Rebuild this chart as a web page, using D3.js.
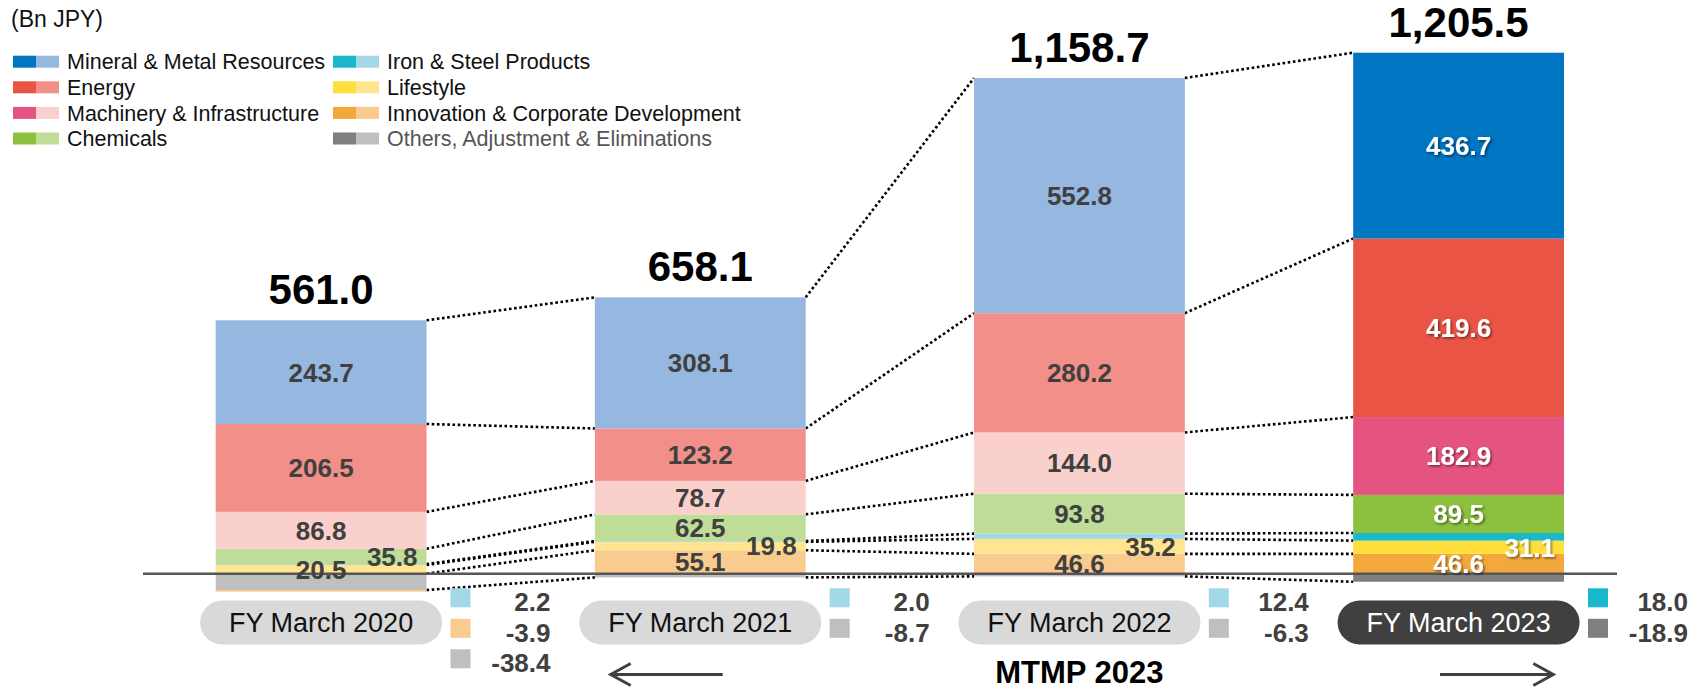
<!DOCTYPE html>
<html>
<head>
<meta charset="utf-8">
<script src="https://cdn.jsdelivr.net/npm/d3@7"></script>
<style>
  body { margin: 0; background: #fff; }
  text { font-family: 'Liberation Sans', Arial, sans-serif; }
</style>
</head>
<body>
<div id="chart-area"></div>
<script>
const years = ['FY March 2020', 'FY March 2021', 'FY March 2022', 'FY March 2023']
const totals = [561.0, 658.1, 1158.7, 1205.5]

const segmentNames = [
  'Mineral & Metal Resources', 'Energy', 'Machinery & Infrastructure', 'Chemicals',
  'Iron & Steel Products', 'Lifestyle', 'Innovation & Corporate Development',
  'Others, Adjustment & Eliminations'
]
const mineral = [243.7, 308.1, 552.8, 436.7]
const energy = [206.5, 123.2, 280.2, 419.6]
const machinery = [86.8, 78.7, 144.0, 182.9]
const chemicals = [35.8, 62.5, 93.8, 89.5]
const ironSteel = [2.2, 2.0, 12.4, 18.0]
const lifestyle = [20.5, 19.8, 35.2, 31.1]
const innovation = [-3.9, 55.1, 46.6, 46.6]
const others = [-38.4, -8.7, -6.3, -18.9]

// segment whose label sits at the right edge of the bar, per year
const edgeLabel = ['Chemicals', 'Lifestyle', 'Lifestyle', 'Lifestyle']

const darkColors = ['#0075c2', '#ea5444', '#e55480', '#8bc13e', '#1bb8cc', '#ffdf3c', '#f3a83b', '#7f7f7f']
const lightColors = ['#96b8e0', '#f18f88', '#f9d0cc', '#bfdd97', '#a2d8e7', '#ffe58f', '#f9cb8f', '#bfbfbf']

const values = [mineral, energy, machinery, chemicals, ironSteel, lifestyle, innovation, others]

const fmt = v => v.toFixed(1)

const W = 1696, H = 687
const svg = d3.select('#chart-area')
  .append('svg')
    .attr('width', W)
    .attr('height', H)

const defs = svg.append('defs')
defs.append('filter')
    .attr('id', 'shadow')
    .attr('x', '-20%').attr('y', '-30%').attr('width', '140%').attr('height', '160%')
  .append('feDropShadow')
    .attr('dx', 1.5).attr('dy', 1.5).attr('stdDeviation', 1)
    .attr('flood-color', '#000').attr('flood-opacity', 0.5)

const rows = years.map((yr, i) => {
  const r = {year: yr, idx: i}
  segmentNames.forEach((s, k) => { r[s] = values[k][i] })
  return r
})

// bottom-up stacking order
const stackOrder = segmentNames.slice().reverse()
const series = d3.stack()
  .keys(stackOrder)
  .offset(d3.stackOffsetDiverging)(rows)
const byKey = {}
series.forEach(s => { byKey[s.key] = s })

const maxTop = d3.max(series, s => d3.max(s, d => d[1]))

const x = d3.scaleBand()
  .domain(years)
  .range([215.7, 1564])
  .paddingInner(0.444)
  .paddingOuter(0)

const y = d3.scaleLinear()
  .domain([0, maxTop])
  .range([573.7, 52.7])

const bw = x.bandwidth()
const isLatest = i => i === years.length - 1
const colorOf = (k, i) => (isLatest(i) ? darkColors : lightColors)[segmentNames.indexOf(k)]

// dotted connectors between neighbouring bars
const boundaries = [
  {key: segmentNames[0], end: 1},
  {key: segmentNames[1], end: 1},
  {key: segmentNames[2], end: 1},
  {key: segmentNames[3], end: 1},
  {key: segmentNames[4], end: 1},
  {key: segmentNames[5], end: 1},
  {key: segmentNames[5], end: 0},
  {key: segmentNames[7], end: 0}
]
const links = []
for (let i = 0; i < years.length - 1; i++) {
  boundaries.forEach(b => {
    links.push({
      x1: x(years[i]) + bw, y1: y(byKey[b.key][i][b.end]),
      x2: x(years[i + 1]), y2: y(byKey[b.key][i + 1][b.end])
    })
  })
}
svg.append('g')
  .selectAll('line')
  .data(links)
  .enter().append('line')
    .attr('x1', d => d.x1).attr('y1', d => d.y1)
    .attr('x2', d => d.x2).attr('y2', d => d.y2)
    .attr('stroke', '#000')
    .attr('stroke-width', 2.6)
    .attr('stroke-dasharray', '2.6 2.6')

// stacked bars
svg.append('g')
  .selectAll('g')
  .data(series)
  .enter().append('g')
  .selectAll('rect')
  .data(s => s.map(d => ({key: s.key, d: d})))
  .enter().append('rect')
    .attr('x', d => x(d.d.data.year))
    .attr('y', d => y(d.d[1]))
    .attr('width', bw)
    .attr('height', d => Math.max(0, y(d.d[0]) - y(d.d[1])))
    .attr('fill', d => colorOf(d.key, d.d.data.idx))

// baseline
svg.append('line')
  .attr('x1', 143).attr('x2', 1617)
  .attr('y1', y(0)).attr('y2', y(0))
  .attr('stroke', '#555')
  .attr('stroke-width', 2.4)

// value labels inside the bars
const inBar = []
series.forEach(s => {
  s.forEach(d => {
    const i = d.data.idx
    const v = d.data[s.key]
    const k = segmentNames.indexOf(s.key)
    if (k === 4 || k === 7 || v <= 0) return
    const atEdge = edgeLabel[i] === s.key
    inBar.push({
      i: i, v: v,
      x: atEdge ? x(years[i]) + bw - 9 : x(years[i]) + bw / 2,
      y: (y(d[0]) + y(d[1])) / 2,
      anchor: atEdge ? 'end' : 'middle'
    })
  })
})
svg.append('g')
  .selectAll('text')
  .data(inBar)
  .enter().append('text')
    .attr('x', d => d.x)
    .attr('y', d => d.y)
    .attr('dy', '0.36em')
    .attr('text-anchor', d => d.anchor)
    .attr('font-size', '26px')
    .attr('font-weight', 'bold')
    .attr('fill', d => isLatest(d.i) ? '#fff' : '#404040')
    .attr('filter', d => isLatest(d.i) ? 'url(#shadow)' : null)
    .text(d => fmt(d.v))

// totals above the bars
svg.append('g')
  .selectAll('text')
  .data(years)
  .enter().append('text')
    .attr('x', d => x(d) + bw / 2)
    .attr('y', (d, i) => y(byKey[segmentNames[0]][i][1]) - 16)
    .attr('text-anchor', 'middle')
    .attr('font-size', '42px')
    .attr('font-weight', 'bold')
    .attr('fill', '#000')
    .text((d, i) => d3.format(',.1f')(totals[i]))

// year pills
const pills = svg.append('g')
  .selectAll('g')
  .data(years)
  .enter().append('g')
    .attr('transform', d => `translate(${x(d) + bw / 2},622.5)`)
pills.append('rect')
  .attr('x', -121).attr('y', -22)
  .attr('width', 242).attr('height', 44)
  .attr('rx', 22)
  .attr('fill', (d, i) => isLatest(i) ? '#404040' : '#d9d9d9')
pills.append('text')
  .attr('text-anchor', 'middle')
  .attr('dy', '0.36em')
  .attr('font-size', '27px')
  .attr('fill', (d, i) => isLatest(i) ? '#fff' : '#111')
  .text(d => d)

// small segments noted beside each bar
const notes = []
years.forEach((yr, i) => {
  let row = 0
  ;[4, 6, 7].forEach(k => {
    const v = values[k][i]
    if (k === 6 && v > 0) return
    notes.push({i: i, k: k, v: v, row: row++})
  })
})
const noteG = svg.append('g')
  .selectAll('g')
  .data(notes)
  .enter().append('g')
    .attr('transform', d => `translate(${x(years[d.i]) + bw},${588.3 + d.row * 30.5})`)
noteG.append('rect')
  .attr('x', 24).attr('y', 0)
  .attr('width', 20).attr('height', 19)
  .attr('fill', d => (isLatest(d.i) ? darkColors : lightColors)[d.k])
noteG.append('text')
  .attr('x', 124).attr('y', 23)
  .attr('text-anchor', 'end')
  .attr('font-size', '26px')
  .attr('font-weight', 'bold')
  .attr('fill', '#404040')
  .text(d => fmt(d.v))

// legend
svg.append('text')
  .attr('x', 11)
  .attr('y', 27)
  .attr('font-size', '23px')
  .attr('fill', '#111')
  .text('(Bn JPY)')

const legend = svg.append('g')
  .selectAll('g')
  .data(segmentNames)
  .enter().append('g')
    .attr('transform', (d, k) => `translate(${k < 4 ? 13 : 333},${61.7 + (k % 4) * 25.6})`)
legend.append('rect')
  .attr('x', 0).attr('y', -6)
  .attr('width', 23).attr('height', 12)
  .attr('fill', (d, k) => darkColors[k])
legend.append('rect')
  .attr('x', 23).attr('y', -6)
  .attr('width', 23).attr('height', 12)
  .attr('fill', (d, k) => lightColors[k])
legend.append('text')
  .attr('x', 54)
  .attr('dy', '0.36em')
  .attr('font-size', '21.5px')
  .attr('fill', (d, k) => k === 7 ? '#555' : '#111')
  .text(d => d)

// period marker
svg.append('text')
  .attr('x', x(years[2]) + bw / 2)
  .attr('y', 683)
  .attr('text-anchor', 'middle')
  .attr('font-size', '31px')
  .attr('font-weight', 'bold')
  .attr('fill', '#000')
  .text('MTMP 2023')

const arrows = [
  {x1: 722.7, x2: 610.7},
  {x1: 1440, x2: 1553.3}
]
const arrowG = svg.append('g')
  .attr('stroke', '#404040')
  .attr('stroke-width', 3)
  .attr('fill', 'none')
arrowG.selectAll('line')
  .data(arrows)
  .enter().append('line')
    .attr('x1', d => d.x1).attr('x2', d => d.x2)
    .attr('y1', 674.5).attr('y2', 674.5)
arrowG.selectAll('path')
  .data(arrows)
  .enter().append('path')
    .attr('d', d => {
      const dir = Math.sign(d.x2 - d.x1)
      return `M${d.x2 - dir * 20},663.5 L${d.x2},674.5 L${d.x2 - dir * 20},685.5`
    })
</script>
</body>
</html>
